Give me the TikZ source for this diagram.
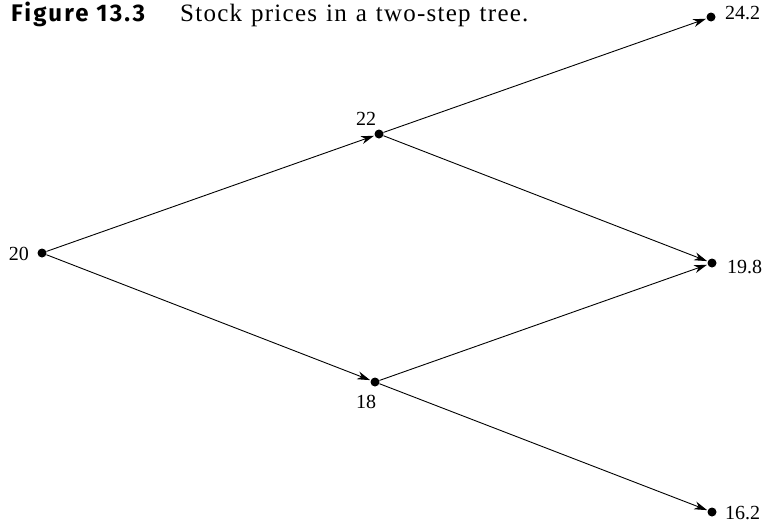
\documentclass[tikz,border=0pt]{standalone}
\usepackage{fontspec}
\setmainfont{Liberation Serif}
\newfontfamily\titlesans[LetterSpace=9]{Fira Sans}
\newfontfamily\titleserif[LetterSpace=5,WordSpace=1.2]{Liberation Serif}
\usetikzlibrary{arrows.meta}
\begin{document}
\begin{tikzpicture}[x=1pt,y=-1pt,
  dotnode/.style={circle,fill=black,inner sep=0pt,minimum size=9pt},
  lbl/.style={font=\fontsize{20}{20}\selectfont,inner sep=0pt},
  conn/.style={-{Stealth[length=13pt,width=8pt,inset=4pt]},line width=0.9pt,shorten >=0.5pt}]
\useasboundingbox (0,0) rectangle (765,523);
\node[anchor=base west,inner sep=0pt,font=\fontsize{24}{24}\selectfont] (title) at (11,21)
  {\makebox[169pt][l]{\titlesans\bfseries Figure 13.3}{\fontsize{25}{25}\titleserif Stock prices in a two-step tree.}};
\node[dotnode] (a) at (42,253) {};
\node[dotnode] (b) at (379,134) {};
\node[dotnode] (c) at (375,382) {};
\node[dotnode] (d) at (711,17) {};
\node[dotnode] (e) at (712,263) {};
\node[dotnode] (f) at (712,512) {};
\node[lbl,anchor=base east] (la) at (29,260) {20};
\node[lbl,anchor=base] (lb) at (366,125) {22};
\node[lbl,anchor=base] (lc) at (366,408) {18};
\node[lbl,anchor=base west] (ld) at (725,19.5) {24.2};
\node[lbl,anchor=base west] (le) at (727,273.5) {19.8};
\node[lbl,anchor=base west] (lf) at (725,519.5) {16.2};
\draw[conn] (a) -- (b);
\draw[conn] (a) -- (c);
\draw[conn] (b) -- (d);
\draw[conn] (b) -- (e);
\draw[conn] (c) -- (e);
\draw[conn] (c) -- (f);
\end{tikzpicture}
\end{document}
